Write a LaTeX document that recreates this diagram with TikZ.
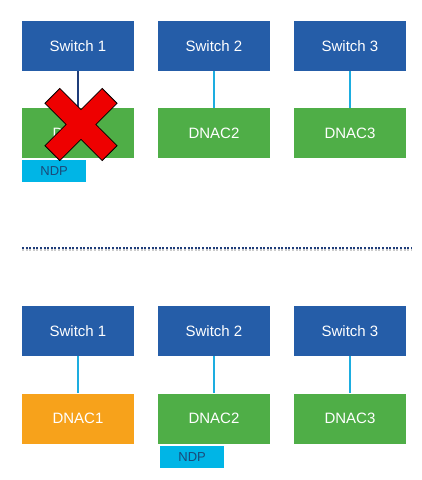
\documentclass[tikz,border=0pt]{standalone}
\usepackage{fontspec}
\setmainfont{Liberation Sans}
\definecolor{swblue}{HTML}{255DA8}
\definecolor{dngreen}{HTML}{4FAE47}
\definecolor{dnorange}{HTML}{F7A21B}
\definecolor{ndpcyan}{HTML}{00B5E6}
\definecolor{ndptext}{HTML}{1A4A7A}
\definecolor{linkblue}{HTML}{1DADE0}
\definecolor{linkdark}{HTML}{1F3D7A}
\definecolor{xred}{HTML}{EE0000}
\begin{document}
\begin{tikzpicture}[x=1pt,y=-1pt,
  box/.style={minimum width=112pt,minimum height=50pt,inner sep=0pt,text=white,font=\fontsize{15}{18}\selectfont},
  swbox/.style={box,fill=swblue},
  dnbox/.style={box,fill=dngreen},
  dnorangebox/.style={box,fill=dnorange},
  ndpbox/.style={minimum width=64pt,minimum height=22pt,inner sep=0pt,fill=ndpcyan,text=ndptext,font=\fontsize{13}{15}\selectfont},
  link/.style={draw=linkblue,line width=2.7pt},
  darklink/.style={draw=linkdark,line width=2.7pt}]
\useasboundingbox (0,0) rectangle (422,480);
% top row
\node[swbox] (s1) at (78,46) {Switch 1};
\node[swbox] (s2) at (214,46) {Switch 2};
\node[swbox] (s3) at (350,46) {Switch 3};
\node[dnbox] (d1) at (78,133) {DNAC1};
\node[dnbox] (d2) at (214,133) {DNAC2};
\node[dnbox] (d3) at (350,133) {DNAC3};
\node[ndpbox,anchor=north west] (n1) at (22,160) {NDP};
\draw[darklink] (s1.south) -- (d1.north);
\draw[link] (s2.south) -- (d2.north);
\draw[link] (s3.south) -- (d3.north);
% red cross
\begin{scope}[shift={(81,124.5)},rotate=45]
\fill[xred,draw=black,line width=0.8pt]
  (-10.5,-40.5) -- (10.5,-40.5) -- (10.5,-10.5) -- (40.5,-10.5) -- (40.5,10.5) -- (10.5,10.5)
  -- (10.5,40.5) -- (-10.5,40.5) -- (-10.5,10.5) -- (-40.5,10.5) -- (-40.5,-10.5) -- (-10.5,-10.5) -- cycle;
\end{scope}
% divider
\coordinate (la) at (22,248);
\coordinate (lb) at (412,248);
\draw[gray!40,line width=3pt,dash pattern=on 2pt off 1.6pt,transform canvas={yshift=-1.5pt}] (la) -- (lb);
\draw[linkdark,line width=2pt,dash pattern=on 2pt off 1.6pt] (la) -- (lb);
% bottom row
\node[swbox] (t1) at (78,331) {Switch 1};
\node[swbox] (t2) at (214,331) {Switch 2};
\node[swbox] (t3) at (350,331) {Switch 3};
\node[dnorangebox] (e1) at (78,418.5) {DNAC1};
\node[dnbox] (e2) at (214,418.5) {DNAC2};
\node[dnbox] (e3) at (350,418.5) {DNAC3};
\node[ndpbox,anchor=north west] (n2) at (160,446) {NDP};
\draw[link] (t1.south) -- (e1.north);
\draw[link] (t2.south) -- (e2.north);
\draw[link] (t3.south) -- (e3.north);
\end{tikzpicture}
\end{document}
